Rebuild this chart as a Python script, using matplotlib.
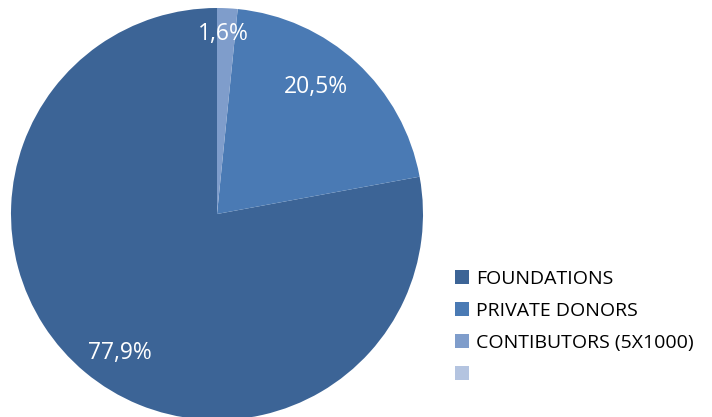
import matplotlib
matplotlib.use("Agg")
import matplotlib.pyplot as plt
from matplotlib.patches import Patch

categories = ["FOUNDATIONS", "PRIVATE DONORS", "CONTIBUTORS (5X1000)", ""]
values = [77.9, 20.5, 1.6, 0.0]
pct_labels = ["77,9%", "20,5%", "1,6%", ""]
colors = ["#3C6496", "#4A7AB4", "#7F9DCB", "#B4C4E0"]

plt.rcParams['font.family'] = ['Open Sans', 'DejaVu Sans']

W, H = 712, 417
fig = plt.figure(figsize=(W / 100, H / 100), dpi=100)
cx, cy, R = 217, 214, 206
ax = fig.add_axes([(cx - R) / W, (H - cy - R) / H, 2 * R / W, 2 * R / H])

nz = [i for i, v in enumerate(values) if v > 0]
wedges, _ = ax.pie([values[i] for i in nz], colors=[colors[i] for i in nz],
                   startangle=90, counterclock=True, radius=1.0,
                   wedgeprops=dict(linewidth=0))
ax.set_xlim(-1, 1)
ax.set_ylim(-1, 1)
ax.set_aspect('equal')
ax.axis('off')

label_pos = {0: (-0.47, -0.675), 1: (0.478, 0.615), 2: (0.03, 0.873)}
for i in nz:
    x, y = label_pos[i]
    ax.text(x, y, pct_labels[i], color='white', fontsize=16.5,
            ha='center', va='center')

handles = [Patch(facecolor=c, edgecolor='none') for c in colors]
fig.legend(handles, categories, loc='upper left',
           bbox_to_anchor=(455 / W, (H - 270) / H), bbox_transform=fig.transFigure,
           frameon=False, fontsize=14, handlelength=0.7, handleheight=0.7,
           handletextpad=0.4, labelspacing=0.72, borderpad=0, borderaxespad=0)

fig.savefig("out.png", dpi=100)
